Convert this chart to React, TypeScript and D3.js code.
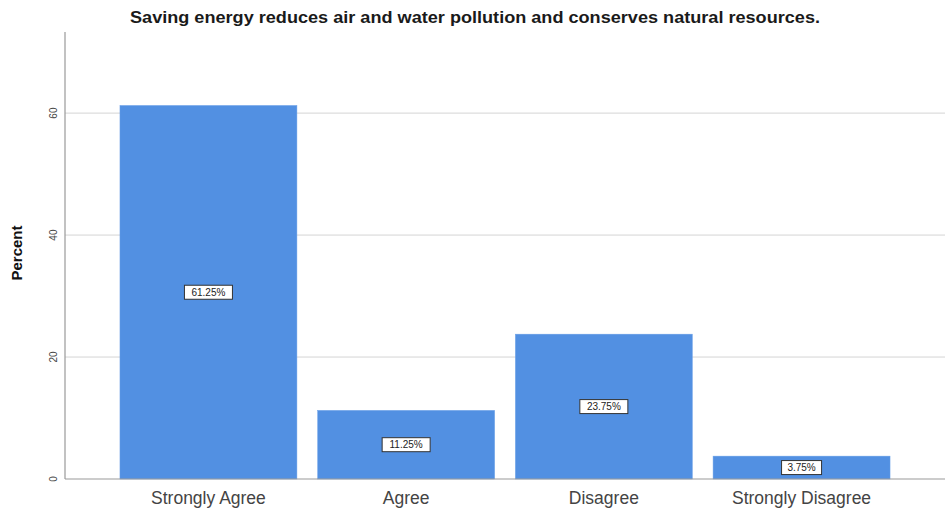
import React from "react";
import * as d3 from "d3";

const categories = ["Strongly Agree", "Agree", "Disagree", "Strongly Disagree"];
const percents = [61.25, 11.25, 23.75, 3.75];
const yTicks = [0, 20, 40, 60];
const title = "Saving energy reduces air and water pollution and conserves natural resources.";

const W = 947;
const H = 519;

export default function App() {
  const x = d3.scaleBand<string>().domain(categories).range([65, 945]).paddingInner(0.105).paddingOuter(0.278);
  const y = d3.scaleLinear().domain([0, 73.3]).range([479, 32]);
  return (
    <svg width={W} height={H} style={{ position: "absolute", left: 0, top: 0 }} fontFamily="Liberation Sans, Arial, sans-serif">
      <rect width={W} height={H} fill="#fff" />
      <text x={475} y={23} textAnchor="middle" fontSize={17} fontWeight="bold" fill="#1a1a1a" textLength={690} lengthAdjust="spacingAndGlyphs">{title}</text>
      {yTicks.filter(t => t > 0).map(t => (
        <line key={t} x1={65} x2={945} y1={y(t)} y2={y(t)} stroke="#d4d4d4" strokeWidth={1} />
      ))}
      {yTicks.map(t => (
        <text key={t} transform={`translate(57,${y(t)}) rotate(-90)`} textAnchor="middle" fontSize={10} fill="#444">{t}</text>
      ))}
      <text transform={`translate(22,253) rotate(-90)`} textAnchor="middle" fontSize={15} fontWeight="bold" fill="#111">Percent</text>
      {categories.map((c, i) => (
        <rect key={c} x={x(c)} y={y(percents[i])} width={x.bandwidth()} height={y(0) - y(percents[i])} fill="#5290e2" stroke="#6aa0e8" strokeWidth={0.5} />
      ))}
      <line x1={65} x2={945} y1={y(0)} y2={y(0)} stroke="#999" strokeWidth={1} />
      <line x1={65} x2={65} y1={32} y2={y(0)} stroke="#999" strokeWidth={1.2} />
      {categories.map((c, i) => {
        const cx = (x(c) as number) + x.bandwidth() / 2;
        const cy = y(percents[i] / 2);
        const label = percents[i].toFixed(2) + "%";
        const bw = label.length > 5 ? 48 : 40;
        return (
          <g key={c}>
            <rect x={cx - bw / 2} y={cy - 7} width={bw} height={14} fill="#fff" stroke="#333" strokeWidth={1} />
            <text x={cx} y={cy + 3.5} textAnchor="middle" fontSize={10} fill="#222">{label}</text>
          </g>
        );
      })}
      {categories.map(c => (
        <text key={c} x={(x(c) as number) + x.bandwidth() / 2} y={504} textAnchor="middle" fontSize={17.5} fill="#444">{c}</text>
      ))}
    </svg>
  );
}
